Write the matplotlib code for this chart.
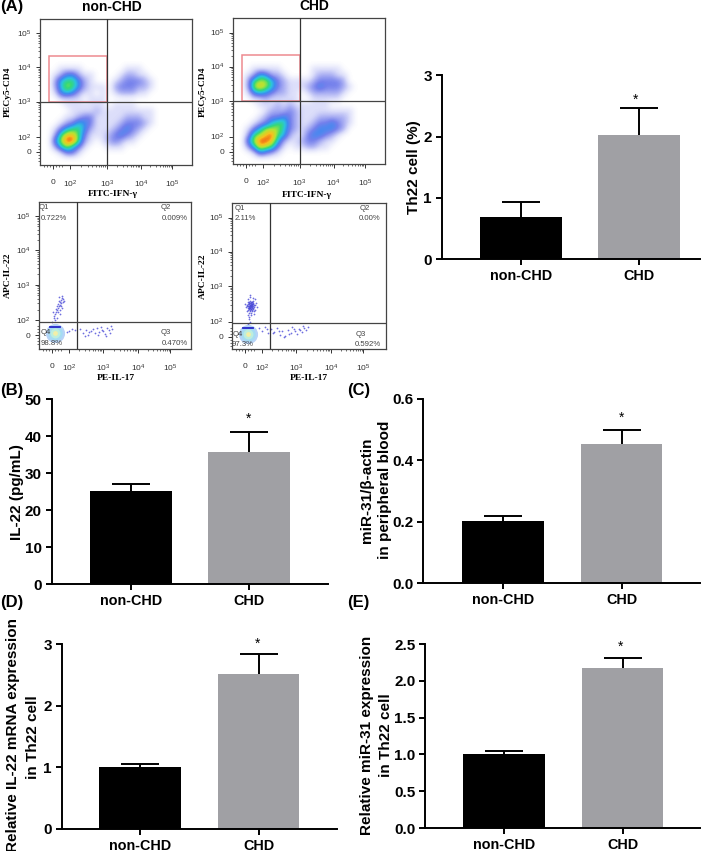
import matplotlib
matplotlib.use("Agg")
import numpy as np
import matplotlib.pyplot as plt
from matplotlib.colors import LinearSegmentedColormap
from matplotlib.patches import Rectangle

W, H = 720, 851

# bar values: mean and top of the error bar
groups = ["non-CHD", "CHD"]
th22_vals = [0.69, 2.03]
th22_tops = [0.93, 2.46]
il22_vals = [25.3, 35.7]
il22_tops = [27.2, 41.1]
mir_blood_vals = [0.203, 0.453]
mir_blood_tops = [0.22, 0.50]
il22_mrna_vals = [1.01, 2.51]
il22_mrna_tops = [1.05, 2.85]
mir_cell_vals = [1.01, 2.17]
mir_cell_tops = [1.05, 2.31]

th22_ticks = [0, 1, 2, 3]
il22_ticks = [0, 10, 20, 30, 40, 50]
mir_blood_ticks = [0.0, 0.2, 0.4, 0.6]
il22_mrna_ticks = [0, 1, 2, 3]
mir_cell_ticks = [0.0, 0.5, 1.0, 1.5, 2.0, 2.5]

# flow density, 0 = empty, 9 = red. one cell is 6 px
density_non = [
    "0000000000000000000000000", "0000000000000000000000000",
    "0000000000000000000000000", "0000000000000000000000000",
    "0000000000000000000000000", "0000000000000000000000000",
    "0000000000000000000000000", "0000000000000000000000000",
    "0001111000000011100000000", "0012442110000122110000000",
    "0025664210001233321000000", "0025764211102333221000000",
    "0014542110101222110000000", "0001111011100000000000000",
    "0000111111101111000000000", "0000011112111111111000000",
    "0000112331111122211000000", "0001235431111233321000000",
    "0013566421112343210000000", "0026886311123432100000000",
    "0047996210123211000000000", "0025753100011100000000000",
    "0001331000000000000000000", "0000000000000000000000000",
]
density_chd = [
    "0000000000000000000000000", "0000000000000000000000000",
    "0000000000000000000000000", "0000000000000000000000000",
    "0000000000000000000000000", "0000000000000000000000000",
    "0000000000000000000000000", "0000000000000000000000000",
    "0001111100000111110000000", "0012542210000122211000000",
    "0026775321111233332000000", "0027875321112343332100000",
    "0014543221101222221000000", "0001121111100111110000000",
    "0000111212111111000000000", "0000012223211111111100000",
    "0000123343211122222100000", "0001235663211233432100000",
    "0013577753212344432000000", "0026789652113443210000000",
    "0047998521123321100000000", "0025876310112211000000000",
    "0001432100000000000000000", "0000000000000000000000000",
]

# IL-22 / IL-17 events, read by eye, channels from the top left of the plot
il_non_x = [16, 18, 20, 21, 22, 23, 24, 19, 17, 15, 20, 22, 24, 21, 18, 16, 14, 19, 23, 21,
            20, 18, 22, 25, 17, 19, 21, 23, 15, 13, 41, 44, 47, 49, 52, 54, 56, 58, 60, 62,
            64, 66, 68, 70, 72, 73, 71, 67, 63, 59, 50, 46, 33, 36, 28, 30]
il_non_y = [112, 108, 104, 100, 98, 96, 100, 106, 110, 114, 95, 104, 97, 108, 116, 118, 110, 102,
            106, 112, 99, 104, 101, 99, 107, 110, 103, 94, 116, 120, 127, 131, 128, 133, 129, 127, 131, 126,
            130, 125, 129, 132, 126, 128, 124, 127, 131, 134, 128, 133, 130, 134, 127, 128, 130, 129]
il_chd_x = [14, 15, 16, 17, 18, 19, 20, 21, 22, 23, 24, 15, 16, 17, 18, 19, 20, 21, 22, 23,
            16, 17, 18, 19, 20, 21, 18, 19, 20, 17, 18, 19, 20, 21, 22, 16, 23, 13, 25, 18,
            17, 18, 16, 17, 27, 30, 33, 36, 39, 42, 45, 48, 50, 53, 56, 59, 62, 65, 68, 70,
            72, 74, 76, 71, 67, 63, 60, 57, 52, 47, 41, 35,
            16, 17, 18, 19, 20, 21, 17, 18, 19, 20, 21, 16, 17, 18, 19, 20, 18, 19, 17, 20,
            15, 22, 18, 19, 17, 20, 21, 16, 18, 19]
il_chd_y = [104, 102, 107, 100, 105, 103, 101, 106, 104, 102, 100, 108, 99, 103, 108, 100, 105, 98,
            108, 96, 96, 105, 102, 106, 103, 101, 94, 110, 99, 110, 98, 112, 108, 95, 111, 112, 107, 101, 104, 92,
            116, 119, 121, 114, 125, 128, 124, 130, 126, 129, 125, 132, 128, 133, 127, 130, 126, 131, 127, 129,
            125, 127, 124, 123, 126, 128, 124, 131, 134, 128, 130, 126,
            103, 101, 100, 102, 104, 100, 105, 103, 106, 102, 103, 101, 99, 105, 104, 107, 102, 101, 104, 99,
            103, 102, 107, 103, 106, 101, 105, 105, 104, 99]

flow_x_top = [13, 30, 67, 101, 132]
flow_x_low = [13, 30, 64, 99, 131]
flow_y = [133.5, 118.5, 83, 48.5, 14.5]
flow_tick_text = ["0", "10$^{2}$", "10$^{3}$", "10$^{4}$", "10$^{5}$"]

blob_sizes = [190, 110, 50, 12]
blob_colors = ["#b7d3f7", "#a5dcf3", "#bdeedd", "#f2efa8"]

q_non = ["Q1", "0.722%", "Q2", "0.009%", "Q3", "0.470%", "Q4", "98.8%"]
q_chd = ["Q1", "2.11%", "Q2", "0.00%", "Q3", "0.592%", "Q4", "97.3%"]

plt.rcParams["font.family"] = ["Liberation Sans", "DejaVu Sans"]
plt.rcParams["mathtext.default"] = "regular"

fig = plt.figure(figsize=(W / 100, H / 100), dpi=100)
flow_cmap = LinearSegmentedColormap.from_list("flow", [
    "#ffffff", "#dcdefa", "#a9aef3", "#7480ec", "#3f8af0", "#2cc4dc",
    "#35d87a", "#b4e434", "#f8c01e", "#f03010"])


def px_axes(left, top, right, bottom):
    return fig.add_axes([left / W, 1 - bottom / H, (right - left) / W, (bottom - top) / H])


def px_text(x, y, s, **kw):
    kw.setdefault("ha", "center")
    kw.setdefault("va", "center")
    fig.text(x / W, 1 - y / H, s, **kw)


def flow_axes(left, top, right, bottom, xpos):
    ax = px_axes(left, top, right, bottom)
    ax.set_xlim(0, right - left)
    ax.set_ylim(bottom - top, 0)
    ax.set_xticks(xpos)
    ax.set_xticklabels(flow_tick_text)
    ax.set_yticks(flow_y)
    ax.set_yticklabels(flow_tick_text)
    minor_x = []
    for a, b in zip(xpos[1:-1], xpos[2:]):
        minor_x += [a + (b - a) * np.log10(k) for k in range(2, 10)]
    minor_x += [xpos[0] + k * 3 - 9 for k in range(0, 7)]
    minor_y = []
    for a, b in zip(flow_y[1:-1], flow_y[2:]):
        minor_y += [a + (b - a) * np.log10(k) for k in range(2, 10)]
    minor_y += [flow_y[0] + k * 3 - 9 for k in range(0, 7)]
    ax.set_xticks(minor_x, minor=True)
    ax.set_yticks(minor_y, minor=True)
    ax.tick_params(which="major", length=3, width=0.7, labelsize=6, colors="#333333")
    ax.tick_params(which="minor", length=1.5, width=0.5, colors="#333333")
    ax.tick_params(axis="x", which="major", pad=7)
    ax.tick_params(axis="y", which="major", pad=3)
    for s in ax.spines.values():
        s.set_linewidth(0.9)
        s.set_color("#444444")
    return ax


def top_flow(left, top, right, bottom, density):
    ax = flow_axes(left, top, right, bottom, flow_x_top)
    grid = np.array([[int(c) for c in row] for row in density], dtype=float)
    ax.imshow(grid, cmap=flow_cmap, vmin=0, vmax=9, extent=(0, 150, 144, 0),
              aspect="auto", interpolation="bicubic", zorder=1)
    ax.set_xlim(0, right - left)
    ax.set_ylim(bottom - top, 0)
    ax.add_patch(Rectangle((9, 37), 58.3, 46, fill=False, ec="#ee8a90", lw=1.1, zorder=3))
    ax.axvline(67, color="#333333", lw=0.9, zorder=4)
    ax.axhline(83, color="#444444", lw=0.9, zorder=4)
    return ax


def low_flow(left, top, right, bottom, xs, ys, vx, hy, blob_x, band_y, texts, text_pos):
    ax = flow_axes(left, top, right, bottom, flow_x_low)
    ax.scatter(xs, ys, s=1.6, color="#4a4ad8", alpha=0.8, linewidths=0, zorder=2)
    for s, c in zip(blob_sizes, blob_colors):
        ax.scatter([blob_x], [131], s=s, color=c, linewidths=0, zorder=2)
    ax.plot([blob_x - 5, blob_x + 5], [band_y, band_y], color="#2424c8", lw=1.3, zorder=3)
    ax.axvline(vx, color="#333333", lw=0.9, zorder=4)
    ax.axhline(hy, color="#444444", lw=0.9, zorder=4)
    for t, (x, y) in zip(texts, text_pos):
        ax.text(x, y, t, fontsize=5.6, color="#444444", ha="center", va="center", zorder=5)
    return ax


def bar_panel(left, top, right, bottom, c0, vals, tops, ymax, ticks, labels, fmt):
    ax = px_axes(left, top, right, bottom)
    ax.set_xlim((left - c0) / 118.4, (right - c0) / 118.4)
    ax.set_ylim(0, ymax)
    pos = [0, 1]
    errs = [t - v for t, v in zip(tops, vals)]
    eb = ax.errorbar(pos, vals, yerr=[[0, 0], errs], fmt="none", ecolor="black",
                     elinewidth=1.4, capsize=14, capthick=1.4, zorder=3)
    eb[1][0].set_visible(False)  # only the upper cap is drawn in the figure
    ax.bar(pos, vals, width=0.69, color=["black", "#a0a0a4"], zorder=2)
    ax.set_xticks(pos)
    ax.set_xticklabels(labels)
    ax.set_yticks(ticks)
    ax.set_yticklabels([fmt % t for t in ticks])
    ax.spines["top"].set_visible(False)
    ax.spines["right"].set_visible(False)
    ax.spines["left"].set_linewidth(1.4)
    ax.spines["bottom"].set_linewidth(1.4)
    ax.tick_params(length=4, width=1.4, pad=3)
    ax.tick_params(axis="x", labelsize=10.4)
    ax.tick_params(axis="y", labelsize=11)
    for t in ax.get_xticklabels() + ax.get_yticklabels():
        t.set_fontweight("bold")
    return ax


top_flow(40, 18.5, 192, 165, density_non)
top_flow(232.7, 18, 385, 164, density_chd)

low_flow(39, 201.7, 191, 349, il_non_x, il_non_y, 38, 120, 16, 125.6, q_non,
         [(5, 5.5), (15, 16.5), (127, 5.5), (136, 16.5), (127, 131), (136, 142), (7, 131), (13, 142)])
low_flow(232, 203, 386, 349, il_chd_x, il_chd_y, 38, 119.7, 16.3, 125, q_chd,
         [(8, 5.5), (13, 16), (133, 5.5), (138, 16), (129, 131), (136, 141), (6, 131), (11, 141)])

bar_panel(441.7, 75.3, 700, 259.3, 520.8, th22_vals, th22_tops, 3, th22_ticks, groups, "%d")
bar_panel(51.7, 399.3, 328, 584, 130.8, il22_vals, il22_tops, 50, il22_ticks, groups, "%d")
bar_panel(423.3, 399, 700, 583.3, 503.2, mir_blood_vals, mir_blood_tops, 0.6, mir_blood_ticks, groups, "%.1f")
bar_panel(61.7, 644.3, 337, 829, 140.2, il22_mrna_vals, il22_mrna_tops, 3, il22_mrna_ticks, groups, "%d")
bar_panel(425, 644, 700, 828, 504.2, mir_cell_vals, mir_cell_tops, 2.5, mir_cell_ticks, groups, "%.1f")

# panel letters and headings
bold = dict(fontweight="bold")
px_text(0, 7, "(A)", ha="left", fontsize=12, **bold)
px_text(0, 391, "(B)", ha="left", fontsize=12, **bold)
px_text(347, 391, "(C)", ha="left", fontsize=12, **bold)
px_text(0, 603, "(D)", ha="left", fontsize=12, **bold)
px_text(347, 603, "(E)", ha="left", fontsize=12, **bold)
px_text(112, 7, "non-CHD", fontsize=10, **bold)
px_text(314, 6, "CHD", fontsize=10, **bold)

# flow axis names
serif = dict(family="Liberation Serif", fontweight="bold", fontsize=6.8)
px_text(113, 194, "FITC-IFN-\u03b3", **serif)
px_text(307, 195, "FITC-IFN-\u03b3", **serif)
px_text(116, 378, "PE-IL-17", **serif)
px_text(309, 378, "PE-IL-17", **serif)
px_text(7.5, 92, "PECy5-CD4", rotation=90, **serif)
px_text(203, 92, "PECy5-CD4", rotation=90, **serif)
px_text(8, 275, "APC-IL-22", rotation=90, **serif)
px_text(203, 276, "APC-IL-22", rotation=90, **serif)

# bar axis names
px_text(414, 167, "Th22 cell (%)", rotation=90, fontsize=11, **bold)
px_text(16.7, 492, "IL-22 (pg/mL)", rotation=90, fontsize=11, **bold)
px_text(367.3, 490, "miR-31/\u03b2-actin", rotation=90, fontsize=11, **bold)
px_text(385, 490, "in peripheral blood", rotation=90, fontsize=11, **bold)
px_text(13, 735, "Relative IL-22 mRNA expression", rotation=90, fontsize=11, **bold)
px_text(33, 737, "in Th22 cell", rotation=90, fontsize=11, **bold)
px_text(367, 735, "Relative miR-31 expression", rotation=90, fontsize=11, **bold)
px_text(386, 735, "in Th22 cell", rotation=90, fontsize=11, **bold)

# significance stars
for x, y in [(635.7, 100), (249, 418.5), (621.7, 417.5), (257.7, 644), (620.7, 646.5)]:
    px_text(x, y, "*", fontsize=10)

fig.savefig("out.png", dpi=100)
